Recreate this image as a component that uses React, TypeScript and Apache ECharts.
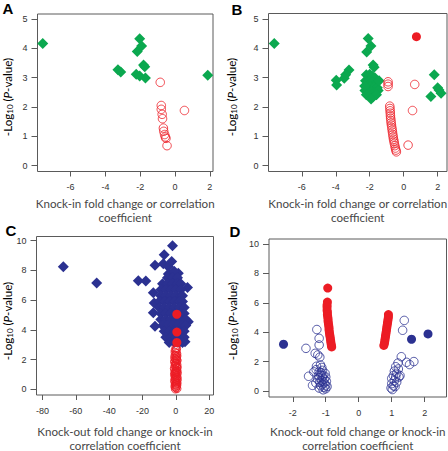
import React, { useEffect, useRef } from "react";
import * as echarts from "echarts";

const GREEN = "#0ba84f";
const RED = "#ec1c24";
const NAVY = "#2b3191";
const AXIS = "#5a5a5a";
const TICKTEXT = "#333333";
const TITLE = "#474747";

type P = [number, number];

// Panel A
const aGreen: P[] = [
  [-7.6, 4.16], [-3.28, 3.27], [-3.12, 3.19], [-2.03, 4.33], [-2.17, 3.89], [-1.92, 4.08],
  [-2.23, 3.12], [-2.03, 3.06], [-1.81, 3.43], [-1.74, 3.37], [-1.7, 2.99], [1.88, 3.08],
];
const aRedOpen: P[] = [
  [-0.85, 2.84], [-0.79, 2.05], [-0.79, 1.92], [-0.74, 1.75], [-0.72, 1.6], [-0.67, 1.28],
  [-0.65, 1.17], [-0.6, 1.06], [-0.56, 0.98], [-0.52, 0.93], [-0.46, 0.68], [0.54, 1.88],
];

// Panel B
const bGreen: P[] = [
  [-7.62, 4.17], [-2.09, 4.34], [-2.18, 3.88], [-1.93, 4.08], [-1.8, 3.43], [-1.74, 3.36],
  [-3.22, 3.26], [-3.42, 3.1], [-3.5, 2.98], [-3.97, 2.91], [-3.95, 2.75],
  [-2.2, 3.1], [-2.0, 3.12], [-1.85, 3.05], [-1.7, 3.0], [-2.25, 2.9], [-2.05, 2.88],
  [-1.85, 2.85], [-1.62, 2.82], [-2.15, 2.72], [-1.95, 2.7], [-1.75, 2.68], [-1.55, 2.66],
  [-2.28, 2.56], [-2.1, 2.55], [-1.9, 2.52], [-1.7, 2.5], [-1.5, 2.56], [-2.2, 2.42],
  [-2.0, 2.38], [-1.8, 2.35], [-1.6, 2.42], [-1.92, 2.27], [-2.3, 2.72], [-1.45, 2.9],
  [1.8, 3.1], [1.6, 2.36], [2.0, 2.66], [2.2, 2.47], [2.08, 2.58],
];
const bRedOpen: P[] = [
  [-0.92, 2.86], [-0.92, 2.78], [-0.92, 2.7],
  [-0.82, 2.03], [-0.81, 1.95], [-0.8, 1.87], [-0.79, 1.79], [-0.78, 1.7], [-0.77, 1.62],
  [-0.75, 1.54], [-0.74, 1.46], [-0.72, 1.38], [-0.7, 1.3], [-0.68, 1.22], [-0.66, 1.14],
  [-0.64, 1.06], [-0.62, 0.98], [-0.6, 0.9], [-0.57, 0.83], [-0.55, 0.76], [-0.52, 0.68],
  [-0.49, 0.6], [-0.46, 0.53], [-0.43, 0.47],
  [0.65, 2.77], [0.52, 1.88], [0.26, 0.7],
];
const bRedFilled: P[] = [[0.75, 4.4]];

// Panel C
const cBlue: P[] = [
  [-67.5, 8.25], [-47.5, 7.15], [-22.5, 7.3], [-18, 7.28],
  [-2, 9.65], [-7, 9.05], [-12.5, 8.35], [-7.5, 8.45], [-4.5, 8.25], [-2.5, 8.6],
  [-4.5, 7.75], [1.5, 7.8], [-1, 7.95],
  [-13.5, 6.5], [-13, 5.8], [-13.5, 5.15], [-12.5, 4.25],
  [7, 6.85], [7.5, 4.55], [5.5, 3.2],
  [-5, 7.5], [-2, 7.5], [1, 7.5],
  [-8, 7.1], [-5, 7.1], [-2, 7.1], [1, 7.1], [3, 7.1],
  [-9, 6.7], [-6, 6.7], [-3, 6.7], [0, 6.7], [3, 6.7],
  [-9, 6.3], [-6, 6.3], [-3, 6.3], [0, 6.3], [3, 6.3], [4, 6.3],
  [-10, 5.9], [-7, 5.9], [-4, 5.9], [-1, 5.9], [2, 5.9], [4, 5.9],
  [-10, 5.5], [-7, 5.5], [-4, 5.5], [-1, 5.5], [2, 5.5], [5, 5.5],
  [-9, 5.1], [-6, 5.1], [-3, 5.1], [0, 5.1], [3, 5.1], [5, 5.1],
  [-9, 4.7], [-6, 4.7], [-3, 4.7], [0, 4.7], [3, 4.7], [6, 4.7],
  [-8, 4.3], [-5, 4.3], [-2, 4.3], [1, 4.3], [4, 4.3], [6, 4.3],
  [-7, 3.9], [-4, 3.9], [-1, 3.9], [2, 3.9], [5, 3.9],
  [-6, 3.5], [-3, 3.5], [0, 3.5], [3, 3.5], [5, 3.5],
  [-4, 3.15], [-1, 3.15], [2, 3.15], [4, 3.15],
];
const cRedOpen: P[] = [
  [0, 2.8], [0.3, 2.65], [-0.5, 2.5], [0.6, 2.4], [-0.2, 2.3], [0.4, 2.2], [-0.7, 2.1],
  [0.2, 2.02], [0.8, 1.93], [-0.8, 1.84], [0, 1.75], [0.7, 1.66], [-0.6, 1.57],
  [0.9, 1.48], [-0.9, 1.4], [0.2, 1.32], [0.8, 1.23], [-0.7, 1.15], [0.9, 1.07],
  [-0.8, 0.98], [0.1, 0.9], [0.8, 0.82], [-0.5, 0.74], [0.9, 0.66], [-0.8, 0.58],
  [0.3, 0.5], [0.8, 0.42], [-0.4, 0.34], [0.6, 0.26], [-0.6, 0.18], [0.2, 0.1],
  [0.7, 0.04], [-0.3, 0.02], [0.5, 1.45], [-0.3, 1.05], [0.4, 0.35], [-0.2, 1.6],
  [0.4, 2.1], [-0.4, 2.62], [0.5, 2.75], [-0.1, 0.6], [0.1, 1.2],
  [0.6, 1.98], [-0.5, 1.9], [0.3, 1.8], [-0.3, 1.7], [0.5, 1.55], [-0.6, 1.35],
  [0.4, 1.28], [-0.2, 1.18], [0.6, 1.12], [-0.5, 1.02], [0.3, 0.95], [-0.4, 0.86],
  [0.5, 0.78], [-0.2, 0.7], [0.6, 0.62], [-0.5, 0.48], [0.1, 0.42], [-0.3, 0.28],
  [0.4, 0.2], [-0.1, 0.12], [0.2, 2.45], [-0.3, 2.05], [0.7, 2.25], [-0.6, 2.25],
];
const cRedFilled: P[] = [[0.6, 5.05], [0.6, 3.85], [0.6, 3.15]];

// Panel D
const dBlueOpen: P[] = [
  [-1.27, 4.18], [-1.2, 3.58], [-1.2, 3.13], [-1.6, 2.9], [-1.32, 2.56], [-1.24, 2.45],
  [-1.18, 2.3], [-1.16, 1.77], [-1.28, 1.68], [-1.12, 1.6], [-1.29, 1.45], [-1.36, 1.3],
  [-1.52, 1.0], [-1.4, 0.38], [-1.2, 1.3], [-1.15, 1.1], [-1.1, 0.95], [-1.2, 0.9],
  [-1.05, 0.8], [-1.12, 0.7], [-1.18, 0.6], [-1.05, 0.55], [-1.1, 0.45], [-1.0, 0.4],
  [-1.15, 0.35], [-1.05, 0.25], [-1.0, 0.15], [-1.08, 0.08], [-1.22, 1.05], [-0.98, 0.65],
  [-1.25, 0.8], [-1.02, 1.2], [-1.1, 1.4], [-1.3, 0.55], [-1.14, 1.25], [-1.0, 0.95],
  [-1.08, 1.05], [-0.96, 0.3], [-1.2, 0.2],
  [1.38, 4.8], [1.33, 4.13], [1.29, 2.33], [1.67, 2.0], [1.54, 1.8], [1.45, 1.95],
  [1.19, 1.9], [1.12, 1.65], [1.2, 1.5], [1.08, 1.35], [1.15, 1.2], [1.05, 1.05],
  [1.12, 0.95], [1.22, 0.95], [1.0, 0.85], [1.08, 0.7], [1.15, 0.6], [1.0, 0.5],
  [1.05, 0.35], [0.98, 0.2], [1.02, 0.1], [1.1, 0.3], [1.25, 1.05],
];
const dRedFilled: P[] = [
  [-0.94, 7.0], [-0.95, 6.05], [-0.96, 5.85], [-0.96, 5.7],
  [-0.96, 5.5], [-0.95, 5.35], [-0.95, 5.2], [-0.94, 5.05], [-0.93, 4.9], [-0.93, 4.75],
  [-0.92, 4.6], [-0.91, 4.45], [-0.9, 4.3], [-0.9, 4.15], [-0.89, 4.0], [-0.88, 3.85],
  [-0.87, 3.7], [-0.86, 3.55], [-0.85, 3.4], [-0.84, 3.25], [-0.83, 3.1], [-0.82, 3.0],
  [0.9, 5.2], [0.9, 5.05], [0.89, 4.9], [0.88, 4.75], [0.87, 4.6], [0.86, 4.45],
  [0.85, 4.3], [0.84, 4.15], [0.83, 4.0], [0.82, 3.85], [0.81, 3.7], [0.8, 3.55],
  [0.79, 3.4], [0.78, 3.25], [0.76, 3.1],
];
const dBlueFilled: P[] = [[-2.28, 3.18], [1.6, 3.52], [2.1, 3.88]];

// Ticks
const ticksABx = [-6, -4, -2, 0, 2];
const ticksABy = [0, 1, 2, 3, 4, 5];
const ticksCx = [-80, -60, -40, -20, 0, 20];
const ticksCDy = [0, 2, 4, 6, 8, 10];
const ticksDx = [-2, -1, 0, 1, 2];

const titleKnockIn = "Knock-in fold change or correlation\ncoefficient";
const titleKnockOut = "Knock-out fold change or knock-in\ncorrelation coefficient";
const yTitle = "{a|-Log}{s|10}{a| (}{i|P}{a|-value)}";
const panelLetters = ["A", "B", "C", "D"];

const TITLE_FONT = "Lato";
const LABEL_FONT = "Liberation Sans";

function xAxis(gi: number, min: number, max: number, ticks: number[], name: string, gap: number) {
  return {
    type: "value", gridIndex: gi, min, max,
    axisLine: { show: false, onZero: false },
    splitLine: { show: false },
    axisTick: { show: true, length: 5, lineStyle: { color: AXIS }, customValues: ticks },
    axisLabel: { customValues: ticks, fontSize: 9, color: TICKTEXT, margin: 11, fontFamily: LABEL_FONT },
    name, nameLocation: "middle", nameGap: gap, nameMoveOverlap: false,
    nameTextStyle: { fontFamily: TITLE_FONT, fontSize: 11.6, color: TITLE, lineHeight: 14, verticalAlign: "top" },
  };
}
function yAxis(gi: number, min: number, max: number, ticks: number[]) {
  return {
    type: "value", gridIndex: gi, min, max,
    axisLine: { show: false, onZero: false },
    splitLine: { show: false },
    axisTick: { show: true, length: 6, lineStyle: { color: AXIS }, customValues: ticks },
    axisLabel: { customValues: ticks, fontSize: 9, color: TICKTEXT, margin: 10, fontFamily: LABEL_FONT },
  };
}
function grid(left: number, top: number, width: number, height: number) {
  return { left, top, width, height, show: true, borderColor: AXIS, borderWidth: 1, backgroundColor: "transparent", containLabel: false, outerBoundsMode: "none" };
}
function sc(i: number, data: P[], symbol: string, size: number, fill: string, stroke?: string) {
  return {
    type: "scatter", xAxisIndex: i, yAxisIndex: i, data, symbol, symbolSize: size, silent: true,
    itemStyle: stroke ? { color: "transparent", borderColor: stroke, borderWidth: 1 } : { color: fill, opacity: 1 },
  };
}

const yRich = {
  a: { fontFamily: TITLE_FONT, fontSize: 11.6, color: TITLE, lineHeight: 14 },
  s: { fontFamily: TITLE_FONT, fontSize: 8, color: TITLE, lineHeight: 9, verticalAlign: "bottom" },
  i: { fontFamily: TITLE_FONT, fontSize: 11.6, color: TITLE, lineHeight: 14, fontStyle: "italic" },
};

export default function App() {
  const ref = useRef<HTMLDivElement>(null);
  useEffect(() => {
    if (!ref.current) return;
    const chart = echarts.init(ref.current, null, { renderer: "svg" });
    const yTitlePos = [[7, 97], [231, 97], [7, 321], [232, 321]];
    const letterPos = [[8, 8], [237, 9], [11, 230], [235, 231]];
    chart.setOption({
      animation: false,
      backgroundColor: "#ffffff",
      grid: [
        grid(37.5, 14, 175.5, 157.5),
        grid(268.5, 13.5, 178.5, 158),
        grid(36.5, 236.5, 177, 158.5),
        grid(269, 239, 177.5, 158),
      ],
      xAxis: [
        xAxis(0, -7.9, 2.18, ticksABx, titleKnockIn, 25),
        xAxis(1, -7.96, 2.55, ticksABx, titleKnockIn, 25),
        xAxis(2, -83.6, 22.6, ticksCx, titleKnockOut, 29),
        xAxis(3, -2.72, 2.66, ticksDx, titleKnockOut, 27),
      ],
      yAxis: [
        yAxis(0, -0.2, 5.17, ticksABy),
        yAxis(1, -0.2, 5.19, ticksABy),
        yAxis(2, -0.38, 10.28, ticksCDy),
        yAxis(3, -0.41, 10.34, ticksCDy),
      ],
      graphic: [
        ...yTitlePos.map(([x, y]) => ({
          type: "text", x, y, rotation: Math.PI / 2, silent: true,
          style: { text: yTitle, rich: yRich, align: "center", verticalAlign: "middle" },
        })),
        ...letterPos.map(([x, y], k) => ({
          type: "text", x, y, silent: true,
          style: { text: panelLetters[k], fontFamily: LABEL_FONT, fontWeight: "bold", fontSize: 15, fill: "#000", align: "center", verticalAlign: "middle" },
        })),
      ],
      series: [
        sc(0, aGreen, "diamond", 11, GREEN),
        sc(0, aRedOpen, "circle", 8.5, "", RED),
        sc(1, bGreen, "diamond", 11, GREEN),
        sc(1, bRedOpen, "circle", 8.5, "", RED),
        sc(1, bRedFilled, "circle", 9, RED),
        sc(2, cBlue, "diamond", 11, NAVY),
        sc(2, cRedOpen, "circle", 8, "", RED),
        sc(2, cRedFilled, "circle", 9, RED),
        sc(3, dBlueOpen, "circle", 8.5, "", NAVY),
        sc(3, dRedFilled, "circle", 9, RED),
        sc(3, dBlueFilled, "circle", 9, NAVY),
      ],
    });
    return () => chart.dispose();
  }, []);
  return (
    <div style={{ position: "absolute", left: 0, top: 0, width: 448, height: 451, background: "#fff" }}>
      <div ref={ref} style={{ width: 448, height: 451 }} />
    </div>
  );
}
